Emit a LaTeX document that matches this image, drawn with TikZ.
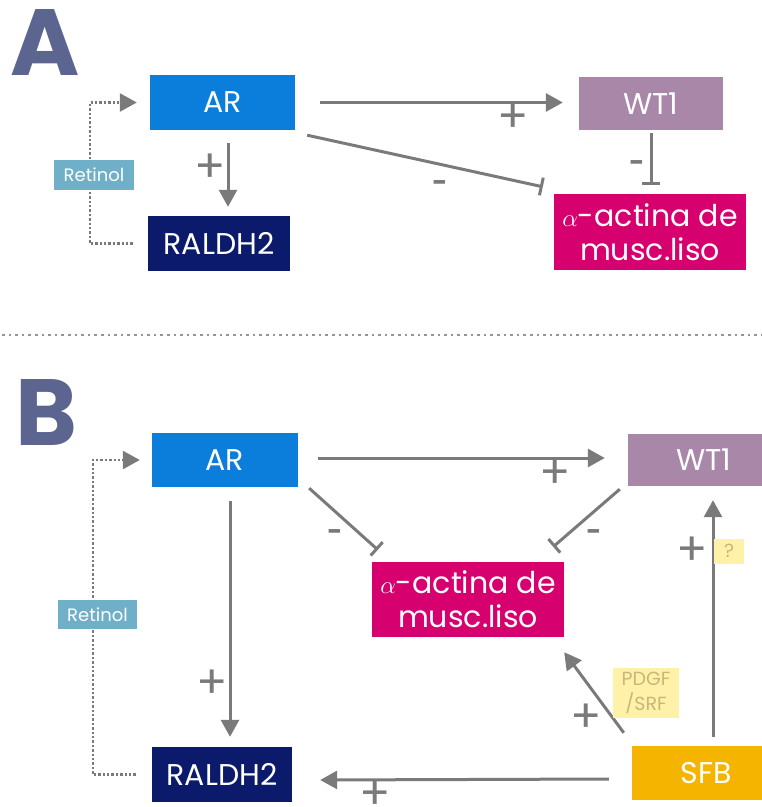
\documentclass[tikz,border=0pt]{standalone}
\usepackage{fontspec}
\setmainfont{Poppins}
\usetikzlibrary{arrows.meta,calc}
\definecolor{letc}{HTML}{5B6590}
\definecolor{arc}{HTML}{0B7DDA}
\definecolor{ralc}{HTML}{0B1A6B}
\definecolor{wtc}{HTML}{A987A8}
\definecolor{actc}{HTML}{D6006F}
\definecolor{sfbc}{HTML}{F4B400}
\definecolor{retc}{HTML}{6FB0C8}
\definecolor{ylwc}{HTML}{FFF2A8}
\definecolor{ylwt}{HTML}{C9B679}
\definecolor{grayc}{HTML}{7A7A7A}
\tikzset{
  box/.style={rectangle, inner sep=0pt, text=white, align=center, font=\fontsize{30}{34}\selectfont},
  retbox/.style={rectangle, fill=retc, inner sep=0pt, text=white, minimum width=80pt, minimum height=30pt, font=\fontsize{18}{20}\selectfont},
  ylwbox/.style={rectangle, fill=ylwc, inner sep=0pt, text=ylwt, align=center, font=\fontsize{19}{25}\selectfont},
  arr/.style={draw=grayc, line width=3pt, -{Triangle[length=17pt,width=18pt]}},
  inh/.style={draw=grayc, line width=3pt, -{Bar[width=18pt,line width=3pt]}},
  dotarr/.style={draw=grayc, line width=2.6pt, dash pattern=on 2.4pt off 2pt, -{Triangle[length=17pt,width=18pt]}},
  plus/.style={text=grayc, inner sep=0pt, font=\fontsize{46}{46}\selectfont},
  minus/.style={text=grayc, inner sep=0pt, font=\bfseries\fontsize{26}{26}\selectfont},
  letter/.style={text=letc, inner sep=0pt, font=\bfseries\fontsize{94}{94}\selectfont},
}
\begin{document}
\begin{tikzpicture}[x=1pt,y=-1pt]
\useasboundingbox (0,0) rectangle (762,807);
% ---------------- Panel A ----------------
\node[letter] (labA) at (45,43) {A};
\node[box, fill=arc, minimum width=145pt, minimum height=55pt] (arA) at (222.5,102.5) {AR};
\node[box, fill=ralc, minimum width=142pt, minimum height=55pt] (ralA) at (219,243.5) {RALDH2};
\node[box, fill=wtc, minimum width=144pt, minimum height=53pt] (wtA) at (651,103.5) {WT1};
\node[box, fill=actc, minimum width=192pt, minimum height=76pt] (actA) at (650,232) {$\alpha$-actina de\\musc.liso};
\draw[dotarr] ([xshift=-15pt]ralA.west) -| ([xshift=-60pt]arA.west) -- ([xshift=-13pt]arA.west);
\node[retbox] (retA) at (94,175) {Retinol};
\draw[arr] ([shift={(5.5,13)}]arA.south) -- ([shift={(9,-9)}]ralA.north);
\draw[arr] ([xshift=25pt]arA.east) -- ([xshift=-16pt,yshift=1pt]wtA.west);
\draw[inh] ([shift={(0,3)}]wtA.south) -- ([shift={(1,-9)}]actA.north);
\draw[inh] ([shift={(12,5)}]arA.south east) -- ([shift={(-11,-7)}]actA.north west);
\node[plus] (pA1) at (210,168) {+};
\node[plus] (pA2) at (513,118) {+};
\node[minus] (mA1) at (637,166) {-};
\node[minus] (mA2) at (440,186) {-};
% separator
\coordinate (sepL) at (2,335);
\coordinate (sepR) at (762,335);
\draw[draw=grayc!80, line width=2.6pt, dash pattern=on 2.6pt off 4pt] (sepL) -- (sepR);
% ---------------- Panel B ----------------
\node[letter] (labB) at (46,412) {B};
\node[box, fill=arc, minimum width=146pt, minimum height=54pt] (arB) at (225,460) {AR};
\node[box, fill=wtc, minimum width=134pt, minimum height=52pt] (wtB) at (695,460) {\hspace*{18pt}WT1};
\node[box, fill=actc, minimum width=192pt, minimum height=75pt] (actB) at (468,599.5) {$\alpha$-actina de\\musc.liso};
\node[box, fill=ralc, minimum width=140pt, minimum height=55pt] (ralB) at (222,774.5) {RALDH2};
\node[box, fill=sfbc, minimum width=130pt, minimum height=54pt] (sfb) at (697,773) {\hspace*{18pt}SFB};
\draw[dotarr] ([xshift=-16pt]ralB.west) -| ([xshift=-59pt]arB.west) -- ([xshift=-12pt]arB.west);
\node[retbox, minimum width=79pt, minimum height=29pt] (retB) at (97.5,614.5) {Retinol};
\draw[arr] ([shift={(5,14)}]arB.south) -- ([shift={(8,-10)}]ralB.north);
\draw[arr] ([xshift=20pt,yshift=2pt]arB.east) -- ([xshift=-23pt,yshift=2pt]wtB.west);
\draw[inh] ([shift={(11,1)}]arB.south east) -- ([shift={(6,-12)}]actB.north west);
\draw[inh] ([shift={(-8,3)}]wtB.south west) -- ([shift={(-11,-15)}]actB.north east);
\draw[arr] ([shift={(16,-9)}]sfb.north) -- ([shift={(18,14)}]wtB.south);
\draw[arr] ([shift={(-8,-13)}]sfb.north west) -- ([shift={(0,15)}]actB.south east);
\draw[arr] ([shift={(-23,6)}]sfb.west) -- ([shift={(28,5.5)}]ralB.east);
\node[ylwbox, minimum width=30pt, minimum height=25pt] (qm) at (729,551) {?};
\node[ylwbox, minimum width=66pt, minimum height=50pt] (pdgf) at (646,693) {PDGF\\/SRF};
\node[plus] (pB1) at (212,684) {+};
\node[plus] (pB2) at (555,474) {+};
\node[minus] (mB1) at (335,535) {-};
\node[minus] (mB2) at (594,535) {-};
\node[plus] (pB3) at (692,551) {+};
\node[plus] (pB4) at (586,718) {+};
\node[plus] (pB5) at (375,795) {+};
\end{tikzpicture}
\end{document}
